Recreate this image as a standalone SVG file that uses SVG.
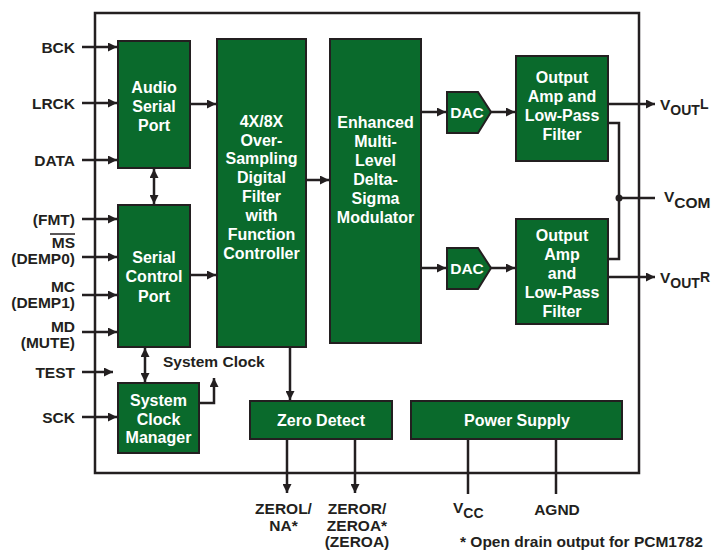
<svg xmlns="http://www.w3.org/2000/svg" width="718" height="550" viewBox="0 0 718 550">
<defs>
<marker id="ah" viewBox="0 0 10 10" refX="10" refY="5" markerWidth="10" markerHeight="9" markerUnits="userSpaceOnUse" orient="auto-start-reverse">
<path d="M0,0 L10,5 L0,10 z" fill="#231f20"/>
</marker>
<style>
.blk{fill:#0a6a2c;stroke:#231f20;stroke-width:2}
.bt{font-family:"Liberation Sans",Arial,sans-serif;font-weight:bold;font-size:16px;fill:#fff;text-anchor:middle}
.lb{font-family:"Liberation Sans",Arial,sans-serif;font-weight:bold;font-size:15.5px;fill:#231f20}
.r{text-anchor:end}
.m{text-anchor:middle}
.w{fill:none;stroke:#231f20;stroke-width:2.5}
.a{marker-end:url(#ah)}
.b{marker-start:url(#ah);marker-end:url(#ah)}
</style>
</defs>
<rect width="718" height="550" fill="#fff"/>
<rect id="frame" x="95" y="13" width="544" height="460" fill="none" stroke="#231f20" stroke-width="2.5"/>

<g id="connectors">
<path class="w a" d="M82,47 H117"/>
<path class="w a" d="M82,103 H117"/>
<path class="w a" d="M82,160 H117"/>
<path class="w a" d="M82,219 H117"/>
<path class="w a" d="M82,257 H117"/>
<path class="w a" d="M82,295 H117"/>
<path class="w a" d="M82,332 H117"/>
<path class="w a" d="M82,372 H113"/>
<path class="w a" d="M82,417 H117"/>
<path class="w a" d="M190,104 H216"/>
<path class="w a" d="M190,275 H216"/>
<path class="w a" d="M306,180 H329"/>
<path class="w a" d="M421,112 H446"/>
<path class="w a" d="M491,112 H515"/>
<path class="w a" d="M421,268 H446"/>
<path class="w a" d="M491,268 H515"/>
<path class="w a" d="M608,104 H655"/>
<path class="w a" d="M608,277 H655"/>
<path class="w" d="M608,123 H619 V259 H608"/>
<path class="w" d="M619,198 H655"/>
<circle cx="619" cy="198" r="3.5" fill="#231f20"/>
<path class="w b" d="M154,169 V204"/>
<path class="w b" d="M145,348 V382"/>
<path class="w a" d="M199,403 H214 V378"/>
<path class="w a" d="M290,347 V400"/>
<path class="w a" d="M287,439 V493"/>
<path class="w a" d="M355,439 V493"/>
<path class="w" d="M468,439 V494"/>
<path class="w" d="M556,439 V494"/>
</g>

<g id="audio-serial-port">
<rect class="blk" x="118" y="41" width="72" height="127"/>
<text class="bt"><tspan x="154" y="92.5">Audio</tspan><tspan x="154" y="111.5">Serial</tspan><tspan x="154" y="130.5">Port</tspan></text>
</g>
<g id="serial-control-port">
<rect class="blk" x="118" y="205" width="72" height="142"/>
<text class="bt"><tspan x="154" y="262.5">Serial</tspan><tspan x="154" y="282">Control</tspan><tspan x="154" y="301.5">Port</tspan></text>
</g>
<g id="digital-filter">
<rect class="blk" x="217" y="39" width="89" height="308"/>
<text class="bt"><tspan x="261.5" y="126.5">4X/8X</tspan><tspan x="261.5" y="145.5">Over-</tspan><tspan x="261.5" y="164">Sampling</tspan><tspan x="261.5" y="183">Digital</tspan><tspan x="261.5" y="202">Filter</tspan><tspan x="261.5" y="221">with</tspan><tspan x="261.5" y="240">Function</tspan><tspan x="261.5" y="259">Controller</tspan></text>
</g>
<g id="modulator">
<rect class="blk" x="330" y="39" width="91" height="304"/>
<text class="bt"><tspan x="375.5" y="127.5">Enhanced</tspan><tspan x="375.5" y="146.5">Multi-</tspan><tspan x="375.5" y="165.5">Level</tspan><tspan x="375.5" y="184.5">Delta-</tspan><tspan x="375.5" y="203.5">Sigma</tspan><tspan x="375.5" y="222.5">Modulator</tspan></text>
</g>
<g id="dac-l">
<path class="blk" d="M447,92 H478 L491,112 L478,133 H447 Z"/>
<text class="bt" x="467" y="118" style="font-size:15.5px">DAC</text>
</g>
<g id="dac-r">
<path class="blk" d="M447,248 H478 L491,268 L478,289 H447 Z"/>
<text class="bt" x="467" y="274" style="font-size:15.5px">DAC</text>
</g>
<g id="output-amp-l">
<rect class="blk" x="516" y="56" width="92" height="105"/>
<text class="bt"><tspan x="562" y="82.5">Output</tspan><tspan x="562" y="101.5">Amp and</tspan><tspan x="562" y="120.5">Low-Pass</tspan><tspan x="562" y="139.5">Filter</tspan></text>
</g>
<g id="output-amp-r">
<rect class="blk" x="516" y="219" width="92" height="105"/>
<text class="bt"><tspan x="562" y="240.5">Output</tspan><tspan x="562" y="259.5">Amp</tspan><tspan x="562" y="278.5">and</tspan><tspan x="562" y="297.5">Low-Pass</tspan><tspan x="562" y="316.5">Filter</tspan></text>
</g>
<g id="system-clock-manager">
<rect class="blk" x="118" y="383" width="81" height="70"/>
<text class="bt"><tspan x="158.5" y="405.5">System</tspan><tspan x="158.5" y="424.5">Clock</tspan><tspan x="158.5" y="443">Manager</tspan></text>
</g>
<g id="zero-detect">
<rect class="blk" x="250" y="401" width="142" height="38"/>
<text class="bt" x="321" y="425.5">Zero Detect</text>
</g>
<g id="power-supply">
<rect class="blk" x="411" y="401" width="211" height="38"/>
<text class="bt" x="517" y="425.5">Power Supply</text>
</g>

<g id="labels">
<text class="lb r" x="75" y="52.5">BCK</text>
<text class="lb r" x="75" y="108.5">LRCK</text>
<text class="lb r" x="75" y="165.5">DATA</text>
<text class="lb r" x="75" y="224.5">(FMT)</text>
<text class="lb r" x="75" y="247.5">MS</text>
<line x1="50" y1="234" x2="75" y2="234" stroke="#231f20" stroke-width="1.5"/>
<text class="lb r" x="75" y="263.5">(DEMP0)</text>
<text class="lb r" x="75" y="292">MC</text>
<text class="lb r" x="75" y="308">(DEMP1)</text>
<text class="lb r" x="75" y="332">MD</text>
<text class="lb r" x="75" y="348">(MUTE)</text>
<text class="lb r" x="75" y="377.5">TEST</text>
<text class="lb r" x="75" y="422.5">SCK</text>
<text class="lb" x="163" y="366.5">System Clock</text>
<text class="lb" x="660" y="110">V<tspan font-size="14" dy="4.5">OUT</tspan><tspan font-size="14" dy="-6">L</tspan></text>
<text class="lb" x="664" y="202" font-size="14">V<tspan dy="5.5">COM</tspan></text>
<text class="lb" x="660" y="283">V<tspan font-size="14" dy="4.5">OUT</tspan><tspan font-size="14" dy="-6">R</tspan></text>
<text class="lb m"><tspan x="283.5" y="513.5">ZEROL/</tspan><tspan x="283.5" y="530.5">NA*</tspan></text>
<text class="lb m"><tspan x="357" y="513.5">ZEROR/</tspan><tspan x="357" y="530.5">ZEROA*</tspan><tspan x="357" y="547">(ZEROA)</tspan></text>
<text class="lb" x="453" y="513">V<tspan font-size="14" dy="5">CC</tspan></text>
<text class="lb m" x="557" y="515">AGND</text>
<text class="lb" x="460" y="547" font-size="13.5">* Open drain output for PCM1782</text>
</g>
</svg>
